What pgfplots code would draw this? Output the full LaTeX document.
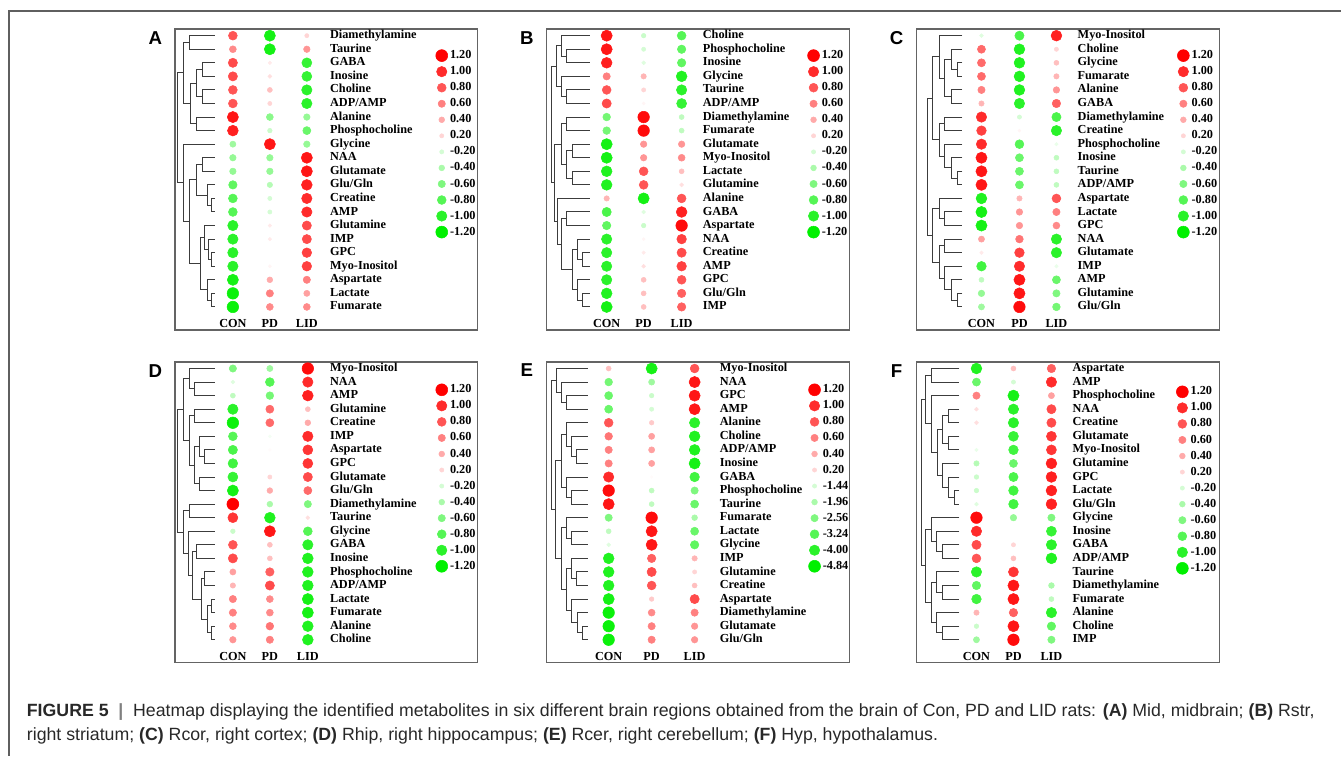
\documentclass[border=0pt]{standalone}
\usepackage{fontspec}
\usepackage{pgfplots}
\pgfplotsset{compat=1.18}
\usepackage{pgfplotstable}
\setmainfont{Liberation Serif}
\newfontfamily\capfont{Liberation Sans}

\definecolor{framec}{RGB}{95,95,95}
\definecolor{boxc}{RGB}{100,100,100}
\definecolor{dendc}{RGB}{60,60,60}
\definecolor{captext}{RGB}{40,40,40}

\newcommand\lblfont{\fontsize{9.2pt}{11pt}\selectfont\bfseries}

% 1 px of the layout = 0.75pt
\pgfplotsset{
  panel/.style={
    width=227.25pt, height=225.75pt, scale only axis, anchor=north west,
    xmin=0, xmax=303, ymin=0.5063, ymax=22.688, y dir=reverse,
    axis line style={boxc, line width=1.1pt},
    xtick=\empty, ytick=\empty, clip=false,
    colormap={rg}{rgb255(0)=(0,240,0) rgb255(1)=(255,255,255) rgb255(2)=(255,0,0)},
    point meta min=-1.2, point meta max=1.2,
  },
  dot/.style={scatter, only marks, mark=*, point meta=explicit,
    scatter/use mapped color={draw=mapped color, fill=mapped color},
    scatter/@pre marker code/.append style={/tikz/mark size={1.0+2.9*abs(\pgfplotspointmetatransformed/1000*2.4-1.2)}}},
  lbl/.style={only marks, mark=none, nodes near coords, point meta=explicit symbolic,
    every node near coord/.append style={anchor=west, inner sep=0pt, font=\lblfont,
      text=black, text height=1.5ex, text depth=0.5ex}},
  dend/.style={draw=dendc, line width=0.75pt, mark=none, forget plot},
}
\tikzset{grp/.style={font=\lblfont, inner sep=0pt, text=black}}

% one link of a dendrogram: node x, child A (x,y), child B (x,y)
\newcommand\mg[5]{\addplot[dend] coordinates {(#2,#3) (#1,#3) (#1,#5) (#4,#5)};}

% three groups, metabolite names and group labels
\newcommand\panelcols[5]{%
  \addplot[dot] table[x expr=#2, y=row, meta=con] {#1};
  \addplot[dot] table[x expr=#3, y=row, meta=pd] {#1};
  \addplot[dot] table[x expr=#4, y=row, meta=lid] {#1};
  \addplot[lbl] table[x expr=#5, y=row, meta=name] {#1};
  \node[grp] at (axis cs:#2,22.2) {CON};
  \node[grp] at (axis cs:#3,22.2) {PD};
  \node[grp] at (axis cs:#4,22.2) {LID};
}
% size / colour key: table, dot x, first row position
\newcommand\sizekey[3]{%
  \addplot[dot] table[x expr=#2, y expr=#3+1.183*\thisrow{k}, meta=v] {#1};
  \addplot[lbl] table[x expr=#2+8, y expr=#3+1.183*\thisrow{k}, meta=lab] {#1};
}

\pgfplotstableread{
k v lab
0 1.2 1.20
1 1.0 1.00
2 0.8 0.80
3 0.6 0.60
4 0.4 0.40
5 0.2 0.20
6 -0.2 -0.20
7 -0.4 -0.40
8 -0.6 -0.60
9 -0.8 -0.80
10 -1.0 -1.00
11 -1.2 -1.20
}\tKey

\pgfplotstableread{
k v lab
0 1.2 1.20
1 1.0 1.00
2 0.8 0.80
3 0.6 0.60
4 0.4 0.40
5 0.2 0.20
6 -1.44 -1.44
7 -1.96 -1.96
8 -2.56 -2.56
9 -3.24 -3.24
10 -4.00 -4.00
11 -4.84 -4.84
}\tKeyE

% (A) Mid
\pgfplotstableread{
row name con pd lid
1 Diamethylamine 0.8 -1.1 0.2
2 Taurine 0.55 -1.1 0.5
3 GABA 0.85 0.1 -0.95
4 Inosine 0.85 0.15 -0.95
5 Choline 0.8 0.3 -1.0
6 ADP/AMP 0.8 0.2 -1.0
7 Alanine 1.1 -0.55 -0.5
8 Phosphocholine 1.05 -0.25 -0.7
9 Glycine -0.45 1.1 -0.5
10 NAA -0.5 -0.5 1.1
11 Glutamate -0.5 -0.5 1.1
12 Glu/Gln -0.75 -0.35 1.05
13 Creatine -0.8 -0.2 1.0
14 AMP -0.8 -0.2 1.0
15 Glutamine -1.0 0.1 0.85
16 IMP -1.0 0.1 0.85
17 GPC -1.0 0.0 0.9
18 Myo-Inositol -1.0 0.05 0.9
19 Aspartate -1.1 0.4 0.6
20 Lactate -1.15 0.6 0.45
21 Fumarate -1.15 0.55 0.55
}\tA

% (B) Rstr
\pgfplotstableread{
row name con pd lid
1 Choline 1.1 -0.25 -0.8
2 Phosphocholine 1.1 -0.2 -0.75
3 Inosine 1.05 -0.15 -0.75
4 Glycine 0.6 0.35 -1.05
5 Taurine 0.8 0.2 -1.0
6 ADP/AMP 0.85 0.05 -0.95
7 Diamethylamine -0.65 1.15 -0.3
8 Fumarate -0.65 1.15 -0.3
9 Glutamate -1.1 0.5 0.5
10 Myo-Inositol -1.1 0.5 0.55
11 Lactate -1.05 0.8 0.3
12 Glutamine -1.05 0.8 0.15
13 Alanine 0.35 -1.1 0.8
14 GABA -0.85 -0.15 1.05
15 Aspartate -0.75 -0.25 1.15
16 NAA -1.0 0.05 0.9
17 Creatine -1.0 0.1 0.85
18 AMP -1.0 0.15 0.9
19 GPC -1.0 0.3 0.8
20 Glu/Gln -1.05 0.3 0.75
21 IMP -1.1 0.3 0.75
}\tB

% (C) Rcor
\pgfplotstableread{
row name con pd lid
1 Myo-Inositol -0.15 -0.85 1.05
2 Choline 0.7 -1.05 0.2
3 Glycine 0.7 -1.05 0.3
4 Fumarate 0.7 -1.05 0.35
5 Alanine 0.6 -1.05 0.5
6 GABA 0.35 -1.0 0.75
7 Diamethylamine 1.0 -0.2 -0.85
8 Creatine 0.9 0.05 -1.0
9 Phosphocholine 1.0 -0.8 -0.1
10 Inosine 1.1 -0.7 -0.3
11 Taurine 1.1 -0.7 -0.3
12 ADP/AMP 1.1 -0.7 -0.3
13 Aspartate -1.05 0.35 0.8
14 Lactate -1.1 0.5 0.6
15 GPC -1.1 0.5 0.55
16 NAA 0.45 0.65 -1.0
17 Glutamate 0.1 0.9 -1.0
18 IMP -0.9 1.0 -0.1
19 AMP -0.3 1.1 -0.7
20 Glutamine -0.5 1.1 -0.6
21 Glu/Gln -0.45 1.15 -0.65
}\tC

% (D) Rhip
\pgfplotstableread{
row name con pd lid
1 Myo-Inositol -0.6 -0.45 1.15
2 NAA -0.15 -0.8 1.0
3 AMP -0.3 -0.65 1.05
4 Glutamine -1.0 0.7 0.3
5 Creatine -1.15 0.7 0.4
6 IMP -0.8 -0.05 1.0
7 Aspartate -0.85 0.02 0.95
8 GPC -0.9 0.0 0.95
9 Glutamate -0.95 0.2 0.85
10 Glu/Gln -1.1 0.4 0.7
11 Diamethylamine 1.2 -0.4 -0.6
12 Taurine 0.95 -1.05 0.15
13 Glycine -0.25 1.1 -0.8
14 GABA 0.8 0.3 -1.0
15 Inosine 0.85 0.3 -1.05
16 Phosphocholine 0.45 0.75 -1.05
17 ADP/AMP 0.35 0.85 -1.05
18 Lactate 0.6 0.55 -1.1
19 Fumarate 0.6 0.55 -1.1
20 Alanine 0.55 0.65 -1.05
21 Choline 0.5 0.6 -1.05
}\tD

% (E) Rcer -- negative side on the key's own scale (-1.44 ... -4.84)
\pgfplotstableread{
row name con pd lid
1 Myo-Inositol 0.3 -4.41 0.8
2 NAA -2.72 -2.10 1.1
3 GPC -2.89 -1.56 1.1
4 AMP -2.89 -1.44 1.1
5 Alanine 0.8 0.25 -4.00
6 Choline 0.65 0.45 -4.20
7 ADP/AMP 0.6 0.45 -4.20
8 Inosine 0.6 0.45 -4.41
9 GABA 1.0 0.02 -3.61
10 Phosphocholine 1.15 -1.69 -2.56
11 Taurine 1.1 -1.69 -2.89
12 Fumarate -2.56 1.15 -1.96
13 Lactate -1.69 1.1 -2.89
14 Glycine -1.32 1.1 -3.06
15 IMP -4.20 0.75 0.35
16 Glutamine -4.20 0.85 0.2
17 Creatine -4.20 0.8 0.3
18 Aspartate -4.41 0.25 0.85
19 Diamethylamine -4.62 0.55 0.6
20 Glutamate -4.62 0.6 0.5
21 Glu/Gln -4.62 0.6 0.5
}\tE

% (F) Hyp
\pgfplotstableread{
row name con pd lid
1 Aspartate -1.05 0.3 0.75
2 AMP -0.7 -0.2 1.0
3 Phosphocholine 0.6 -1.1 0.45
4 NAA 0.15 -1.0 0.85
5 Creatine 0.15 -1.0 0.85
6 Glutamate 0.0 -0.95 0.95
7 Myo-Inositol -0.1 -0.9 0.95
8 Glutamine -0.35 -0.7 1.05
9 GPC -0.25 -0.85 1.05
10 Lactate -0.25 -0.9 1.05
11 Glu/Gln -0.15 -0.9 1.05
12 Glycine 1.15 -0.5 -0.6
13 Inosine 1.0 0.0 -0.95
14 GABA 0.85 0.2 -1.0
15 ADP/AMP 0.8 0.3 -1.05
16 Taurine -1.0 0.95 0.0
17 Diamethylamine -0.75 1.1 -0.4
18 Fumarate -0.9 1.1 -0.3
19 Alanine 0.35 0.75 -1.0
20 Choline -0.25 1.1 -0.75
21 IMP -0.45 1.15 -0.6
}\tF

\begin{document}
\begin{tikzpicture}
\path (0,0) rectangle (1006.5pt,-567pt);
\draw[framec, line width=1.1pt] (6.75pt,-567pt) -- (6.75pt,-8.25pt) -- (1006.5pt,-8.25pt);

\tikzset{panlet/.style={font={\fontsize{14pt}{16pt}\selectfont\capfont\bfseries}, inner sep=0pt}}
\node[panlet] at (116.6pt,-28.7pt) {A};
\node[panlet] at (395.3pt,-28.7pt) {B};
\node[panlet] at (672.8pt,-28.7pt) {C};
\node[panlet] at (116.6pt,-278.5pt) {D};
\node[panlet] at (395.3pt,-277.5pt) {E};
\node[panlet] at (672.8pt,-278.5pt) {F};

% ---------- A ----------
\begin{axis}[panel, at={(131.25pt,-21.75pt)}]
\mg{15}{40}{1}{40}{2}
\mg{28}{40}{3}{40}{4}
\mg{28}{40}{5}{40}{6}
\mg{22}{28}{3.5}{28}{5.5}
\mg{22}{40}{7}{40}{8}
\mg{16}{22}{4.5}{22}{7.5}
\mg{9}{15}{1.5}{16}{6}
\mg{28}{40}{10}{40}{11}
\mg{37}{40}{13}{40}{14}
\mg{33}{40}{12}{37}{13.5}
\mg{22}{28}{10.5}{33}{12.75}
\mg{37}{40}{17}{40}{18}
\mg{34}{40}{16}{37}{17.5}
\mg{30}{40}{15}{34}{16.75}
\mg{37}{40}{20}{40}{21}
\mg{33}{40}{19}{37}{20.5}
\mg{26}{30}{15.875}{33}{19.75}
\mg{15}{22}{11.625}{26}{17.8125}
\mg{9}{40}{9}{15}{14.71875}
\mg{3}{9}{3.75}{9}{11.859}
\panelcols{\tA}{58}{95}{132}{155}
\sizekey{\tKey}{267}{2.47}
\end{axis}

% ---------- B ----------
\begin{axis}[panel, at={(410.25pt,-21.75pt)}]
\mg{20}{43}{2}{43}{3}
\mg{15}{43}{1}{20}{2.5}
\mg{20}{43}{5}{43}{6}
\mg{15}{43}{4}{20}{5.5}
\mg{10}{15}{1.75}{15}{4.75}
\mg{20}{43}{7}{43}{8}
\mg{26}{43}{9}{43}{10}
\mg{26}{43}{11}{43}{12}
\mg{20}{26}{9.5}{26}{11.5}
\mg{15}{20}{7.5}{20}{10.5}
\mg{20}{43}{14}{43}{15}
\mg{36}{43}{17}{43}{18}
\mg{31}{43}{16}{36}{17.5}
\mg{36}{43}{20}{43}{21}
\mg{31}{43}{19}{36}{20.5}
\mg{26}{31}{16.75}{31}{19.75}
\mg{15}{20}{14.5}{26}{18.25}
\mg{11}{43}{13}{15}{16.375}
\mg{8}{15}{9}{11}{14.69}
\mg{4.7}{10}{3.25}{8}{11.85}
\panelcols{\tB}{60}{97}{135}{156}
\sizekey{\tKey}{267}{2.47}
\end{axis}

% ---------- C ----------
\begin{axis}[panel, at={(687.75pt,-21.75pt)}]
\mg{41}{46}{3}{46}{4}
\mg{35}{46}{2}{41}{3.5}
\mg{35}{46}{5}{46}{6}
\mg{28}{35}{2.75}{35}{5.5}
\mg{23}{46}{1}{28}{4.125}
\mg{28}{46}{7}{46}{8}
\mg{41}{46}{11}{46}{12}
\mg{35}{46}{10}{41}{11.5}
\mg{28}{46}{9}{35}{10.75}
\mg{23}{28}{7.5}{28}{9.875}
\mg{16}{23}{2.5625}{23}{8.6875}
\mg{28}{46}{14}{46}{15}
\mg{23}{46}{13}{28}{14.5}
\mg{28}{46}{16}{46}{17}
\mg{41}{46}{20}{46}{21}
\mg{35}{46}{19}{41}{20.5}
\mg{28}{46}{18}{35}{19.75}
\mg{23}{28}{16.5}{28}{18.875}
\mg{16}{23}{13.75}{23}{17.6875}
\mg{11}{16}{5.625}{16}{15.72}
\panelcols{\tC}{65}{103}{140}{161}
\sizekey{\tKey}{267}{2.47}
\end{axis}

% ---------- D ----------
\begin{axis}[panel, at={(131.25pt,-271.5pt)}]
\mg{20}{40}{2}{40}{3}
\mg{15}{40}{1}{20}{2.5}
\mg{20}{40}{4}{40}{5}
\mg{30}{40}{7}{40}{8}
\mg{25}{40}{6}{30}{7.5}
\mg{25}{40}{9}{40}{10}
\mg{20}{25}{6.75}{25}{9.5}
\mg{15}{20}{4.5}{20}{8.125}
\mg{9}{15}{1.75}{15}{6.3125}
\mg{15}{40}{11}{40}{12}
\mg{22}{40}{14}{40}{15}
\mg{30}{40}{16}{40}{17}
\mg{37}{40}{18}{40}{19}
\mg{37}{40}{20}{40}{21}
\mg{33}{37}{18.5}{37}{20.5}
\mg{27}{30}{16.5}{33}{19.5}
\mg{18}{22}{14.5}{27}{18}
\mg{14}{40}{13}{18}{16.25}
\mg{9}{15}{11.5}{14}{14.625}
\mg{3}{9}{4.03}{9}{13.06}
\panelcols{\tD}{58}{95}{133}{155}
\sizekey{\tKey}{267}{2.57}
\end{axis}

% ---------- E ----------
\begin{axis}[panel, at={(410.25pt,-271.5pt)}]
\mg{20}{41}{3}{41}{4}
\mg{15}{41}{2}{20}{3.5}
\mg{10}{41}{1}{15}{2.75}
\mg{30}{41}{7}{41}{8}
\mg{25}{41}{6}{30}{7.5}
\mg{20}{41}{5}{25}{6.75}
\mg{25}{41}{10}{41}{11}
\mg{20}{41}{9}{25}{10.5}
\mg{15}{20}{5.875}{20}{9.75}
\mg{25}{41}{13}{41}{14}
\mg{20}{41}{12}{25}{13.5}
\mg{30}{41}{16}{41}{17}
\mg{25}{41}{15}{30}{16.5}
\mg{36}{41}{20}{41}{21}
\mg{31}{41}{19}{36}{20.5}
\mg{25}{41}{18}{31}{19.75}
\mg{20}{25}{15.75}{25}{18.875}
\mg{15}{20}{12.75}{20}{17.3125}
\mg{9}{15}{7.8125}{15}{15.03}
\mg{5}{10}{1.875}{9}{11.42}
% negative values sit on the squared key scale: size from 1 - sqrt(|v|)
\addplot[dot] table[x expr=62, y=row, meta expr={\thisrow{con}<0 ? 1-sqrt(abs(\thisrow{con})) : \thisrow{con}}] {\tE};
\addplot[dot] table[x expr=105, y=row, meta expr={\thisrow{pd}<0 ? 1-sqrt(abs(\thisrow{pd})) : \thisrow{pd}}] {\tE};
\addplot[dot] table[x expr=148, y=row, meta expr={\thisrow{lid}<0 ? 1-sqrt(abs(\thisrow{lid})) : \thisrow{lid}}] {\tE};
\addplot[lbl] table[x expr=173, y=row, meta=name] {\tE};
\node[grp] at (axis cs:62,22.2) {CON};
\node[grp] at (axis cs:105,22.2) {PD};
\node[grp] at (axis cs:148,22.2) {LID};
\addplot[dot] table[x expr=268, y expr=2.57+1.183*\thisrow{k}, meta expr={\thisrow{v}<0 ? 1-sqrt(abs(\thisrow{v})) : \thisrow{v}}] {\tKeyE};
\addplot[lbl] table[x expr=276, y expr=2.57+1.183*\thisrow{k}, meta=lab] {\tKeyE};
\end{axis}

% ---------- F ----------
\begin{axis}[panel, at={(687.75pt,-271.5pt)}]
\mg{15}{43}{1}{43}{2}
\mg{32}{43}{4}{43}{5}
\mg{32}{43}{6}{43}{7}
\mg{26}{32}{4.5}{32}{6.5}
\mg{38}{43}{10}{43}{11}
\mg{32}{43}{9}{38}{10.5}
\mg{26}{43}{8}{32}{9.75}
\mg{21}{26}{5.5}{26}{8.875}
\mg{15}{43}{3}{21}{7.1875}
\mg{9}{15}{1.5}{15}{5.09}
\mg{26}{43}{14}{43}{15}
\mg{20}{43}{13}{26}{14.5}
\mg{15}{43}{12}{20}{13.75}
\mg{26}{43}{17}{43}{18}
\mg{20}{43}{16}{26}{17.5}
\mg{26}{43}{20}{43}{21}
\mg{20}{43}{19}{26}{20.5}
\mg{15}{20}{16.75}{20}{19.75}
\mg{9}{15}{12.875}{15}{18.25}
\mg{5}{9}{3.3}{9}{15.56}
\panelcols{\tF}{60}{97}{135}{156}
\sizekey{\tKey}{266}{2.72}
\end{axis}

% caption
\tikzset{capline/.style={anchor=base west, inner sep=0pt, text=captext, font={\fontsize{13.3pt}{16pt}\selectfont\capfont}}}
\node[capline] at (20pt,-537.4pt) {\textbf{FIGURE 5}\hspace{0.55em}{\color{gray}\textbf{|}}\hspace{0.55em}Heatmap displaying the identified metabolites in six different brain regions obtained from the brain of Con, PD and LID rats: \textbf{(A)} Mid, midbrain; \textbf{(B)} Rstr,};
\node[capline] at (20pt,-556pt) {right striatum; \textbf{(C)} Rcor, right cortex; \textbf{(D)} Rhip, right hippocampus; \textbf{(E)} Rcer, right cerebellum; \textbf{(F)} Hyp, hypothalamus.};
\end{tikzpicture}
\end{document}
